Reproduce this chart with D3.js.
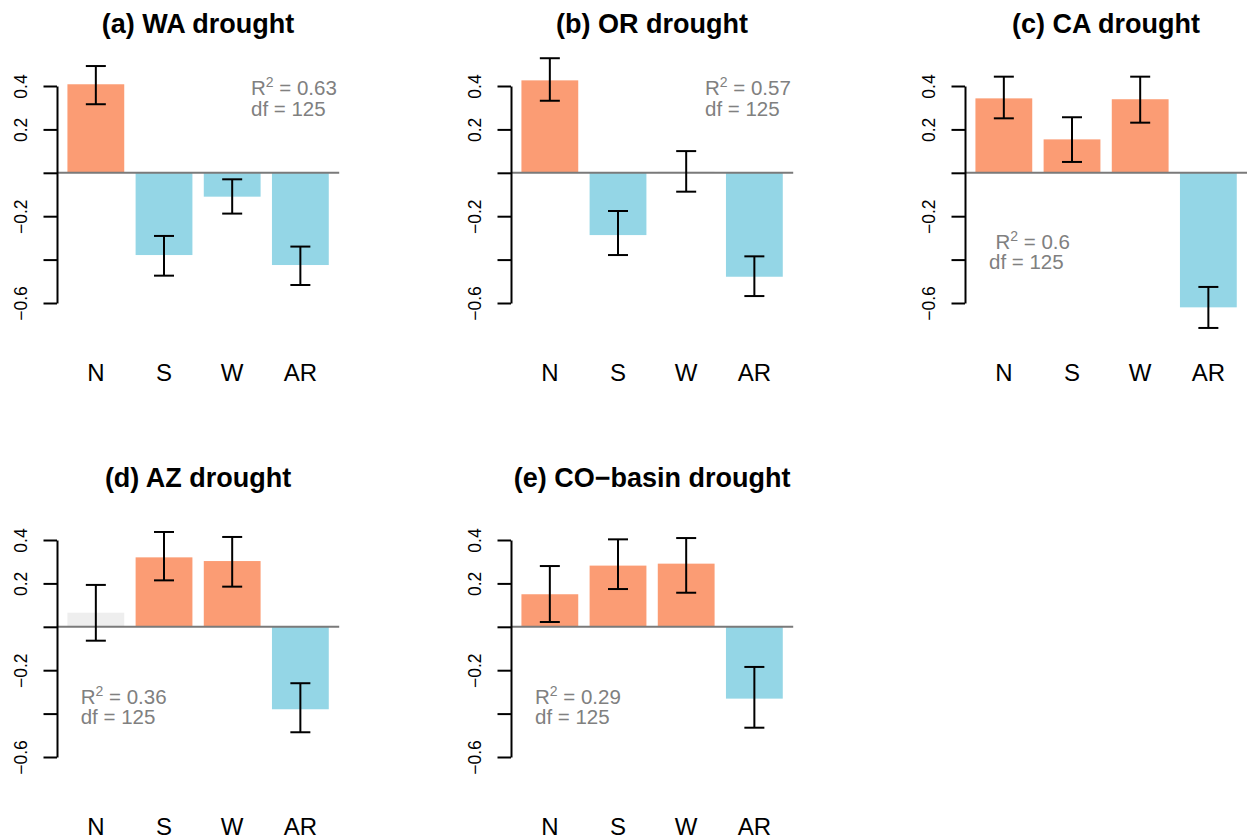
<!DOCTYPE html>
<html>
<head>
<meta charset="utf-8">
<script src="https://cdn.jsdelivr.net/npm/d3@7"></script>
<style>
  body { margin: 0; background: #fff; }
  svg { display: block; font-family: "Liberation Sans", Arial, Helvetica, sans-serif; }
</style>
</head>
<body>
<svg width="1247" height="838"></svg>
<script>
const categories = ['N', 'S', 'W', 'AR'];
const panelTitles = ['(a) WA drought', '(b) OR drought', '(c) CA drought', '(d) AZ drought', '(e) CO\u2212basin drought'];

// coefficient estimates and interval bounds, one row per panel
const estimates = [
  [0.408, -0.379, -0.110, -0.425],
  [0.426, -0.287, 0.005, -0.479],
  [0.343, 0.154, 0.339, -0.620],
  [0.065, 0.320, 0.303, -0.380],
  [0.150, 0.282, 0.291, -0.331]
];
const lower = [
  [0.316, -0.474, -0.188, -0.517],
  [0.332, -0.379, -0.087, -0.568],
  [0.251, 0.050, 0.231, -0.715],
  [-0.064, 0.214, 0.185, -0.486],
  [0.022, 0.174, 0.157, -0.465]
];
const upper = [
  [0.492, -0.291, -0.030, -0.340],
  [0.528, -0.176, 0.100, -0.385],
  [0.443, 0.256, 0.443, -0.526],
  [0.193, 0.437, 0.414, -0.260],
  [0.280, 0.403, 0.409, -0.185]
];
const r2Values = ['0.63', '0.57', '0.6', '0.36', '0.29'];
const dfValues = [125, 125, 125, 125, 125];

const yTicks = [0.4, 0.2, 0, -0.2, -0.4, -0.6];
const yTickLabels = ['0.4', '0.2', '', '\u22120.2', '', '\u22120.6'];

// layout
const panelStep = 454;
const plotLeft = 57, plotRight = 339.2;
const plotTop = 86, plotBottom = 303;
// where the R^2 / df note sits inside each panel
const notePos = [
  {r2x: 251, dfx: 251, y: 95},
  {r2x: 251, dfx: 251, y: 95},
  {r2x: 87.5, dfx: 81, y: 248.5},
  {r2x: 80.7, dfx: 80.7, y: 249.5},
  {r2x: 81, dfx: 81, y: 249.5}
];

const colPos = '#fb9c74', colNeg = '#94d6e6', colNs = '#eeeeee';

const svg = d3.select('svg');

const xScale = d3.scaleBand()
  .domain(categories)
  .range([plotLeft, plotRight])
  .paddingInner(1 / 6)
  .paddingOuter(0.153);

const yScale = d3.scaleLinear()
  .domain([-0.6, 0.4])
  .range([plotBottom, plotTop]);

panelTitles.forEach((title, p) => {
  const col = p % 3, row = Math.floor(p / 3);
  const g = svg.append('g')
    .attr('transform', `translate(${col * panelStep}, ${row * panelStep})`);

  const rows = categories.map((c, i) => ({
    cat: c, est: estimates[p][i], lo: lower[p][i], hi: upper[p][i]
  }));

  // bars
  g.selectAll('rect.bar')
    .data(rows)
    .enter()
    .append('rect')
    .attr('class', 'bar')
    .attr('x', d => xScale(d.cat))
    .attr('width', xScale.bandwidth())
    .attr('y', d => yScale(Math.max(0, d.est)))
    .attr('height', d => Math.abs(yScale(d.est) - yScale(0)))
    .attr('fill', d => d.lo > 0 ? colPos : (d.hi < 0 ? colNeg : colNs));

  // zero line
  g.append('line')
    .attr('x1', plotLeft).attr('x2', plotRight)
    .attr('y1', yScale(0)).attr('y2', yScale(0))
    .attr('stroke', '#7a7a7a')
    .attr('stroke-width', 2);

  // y axis
  const axis = g.append('g')
    .attr('transform', `translate(${plotLeft}, 0)`)
    .call(d3.axisLeft(yScale)
      .tickValues(yTicks)
      .tickSize(13.5)
      .tickSizeOuter(0)
      .tickFormat((d, i) => yTickLabels[i]));
  axis.select('.domain').attr('stroke', '#000').attr('stroke-width', 2);
  axis.selectAll('.tick line').attr('stroke', '#000').attr('stroke-width', 2);
  axis.selectAll('.tick text')
    .attr('x', null)
    .attr('dy', null)
    .attr('transform', 'translate(-30.5, 0) rotate(-90)')
    .attr('text-anchor', 'middle')
    .attr('fill', '#000')
    .attr('font-size', 17.5)
    .attr('font-family', '"Liberation Sans", Arial, Helvetica, sans-serif');

  // error bars
  const cap = 10;
  const eb = g.selectAll('g.err')
    .data(rows)
    .enter()
    .append('g')
    .attr('class', 'err')
    .attr('stroke', '#000')
    .attr('stroke-width', 2);
  const cx = d => xScale(d.cat) + xScale.bandwidth() / 2;
  eb.append('line')
    .attr('x1', cx).attr('x2', cx)
    .attr('y1', d => yScale(d.lo)).attr('y2', d => yScale(d.hi));
  eb.append('line')
    .attr('x1', d => cx(d) - cap).attr('x2', d => cx(d) + cap)
    .attr('y1', d => yScale(d.lo)).attr('y2', d => yScale(d.lo));
  eb.append('line')
    .attr('x1', d => cx(d) - cap).attr('x2', d => cx(d) + cap)
    .attr('y1', d => yScale(d.hi)).attr('y2', d => yScale(d.hi));

  // category labels
  g.selectAll('text.cat')
    .data(categories)
    .enter()
    .append('text')
    .attr('class', 'cat')
    .attr('x', d => xScale(d) + xScale.bandwidth() / 2)
    .attr('y', 380.5)
    .attr('text-anchor', 'middle')
    .attr('font-size', 24)
    .attr('fill', '#000')
    .text(d => d);

  // title
  g.append('text')
    .attr('x', (plotLeft + plotRight) / 2)
    .attr('y', 33)
    .attr('text-anchor', 'middle')
    .attr('font-size', 27)
    .attr('font-weight', 'bold')
    .attr('fill', '#000')
    .text(title);

  // R^2 and df note
  const np = notePos[p];
  const r2 = g.append('text')
    .attr('x', np.r2x)
    .attr('y', np.y)
    .attr('font-size', 20.5)
    .attr('fill', '#808080');
  r2.append('tspan').text('R');
  r2.append('tspan').attr('font-size', 14).attr('dy', -8).text('2');
  r2.append('tspan').attr('dy', 8).text(' = ' + r2Values[p]);

  g.append('text')
    .attr('x', np.dfx)
    .attr('y', np.y + 20.5)
    .attr('font-size', 20.5)
    .attr('fill', '#808080')
    .text('df = ' + dfValues[p]);
});
</script>
</body>
</html>
